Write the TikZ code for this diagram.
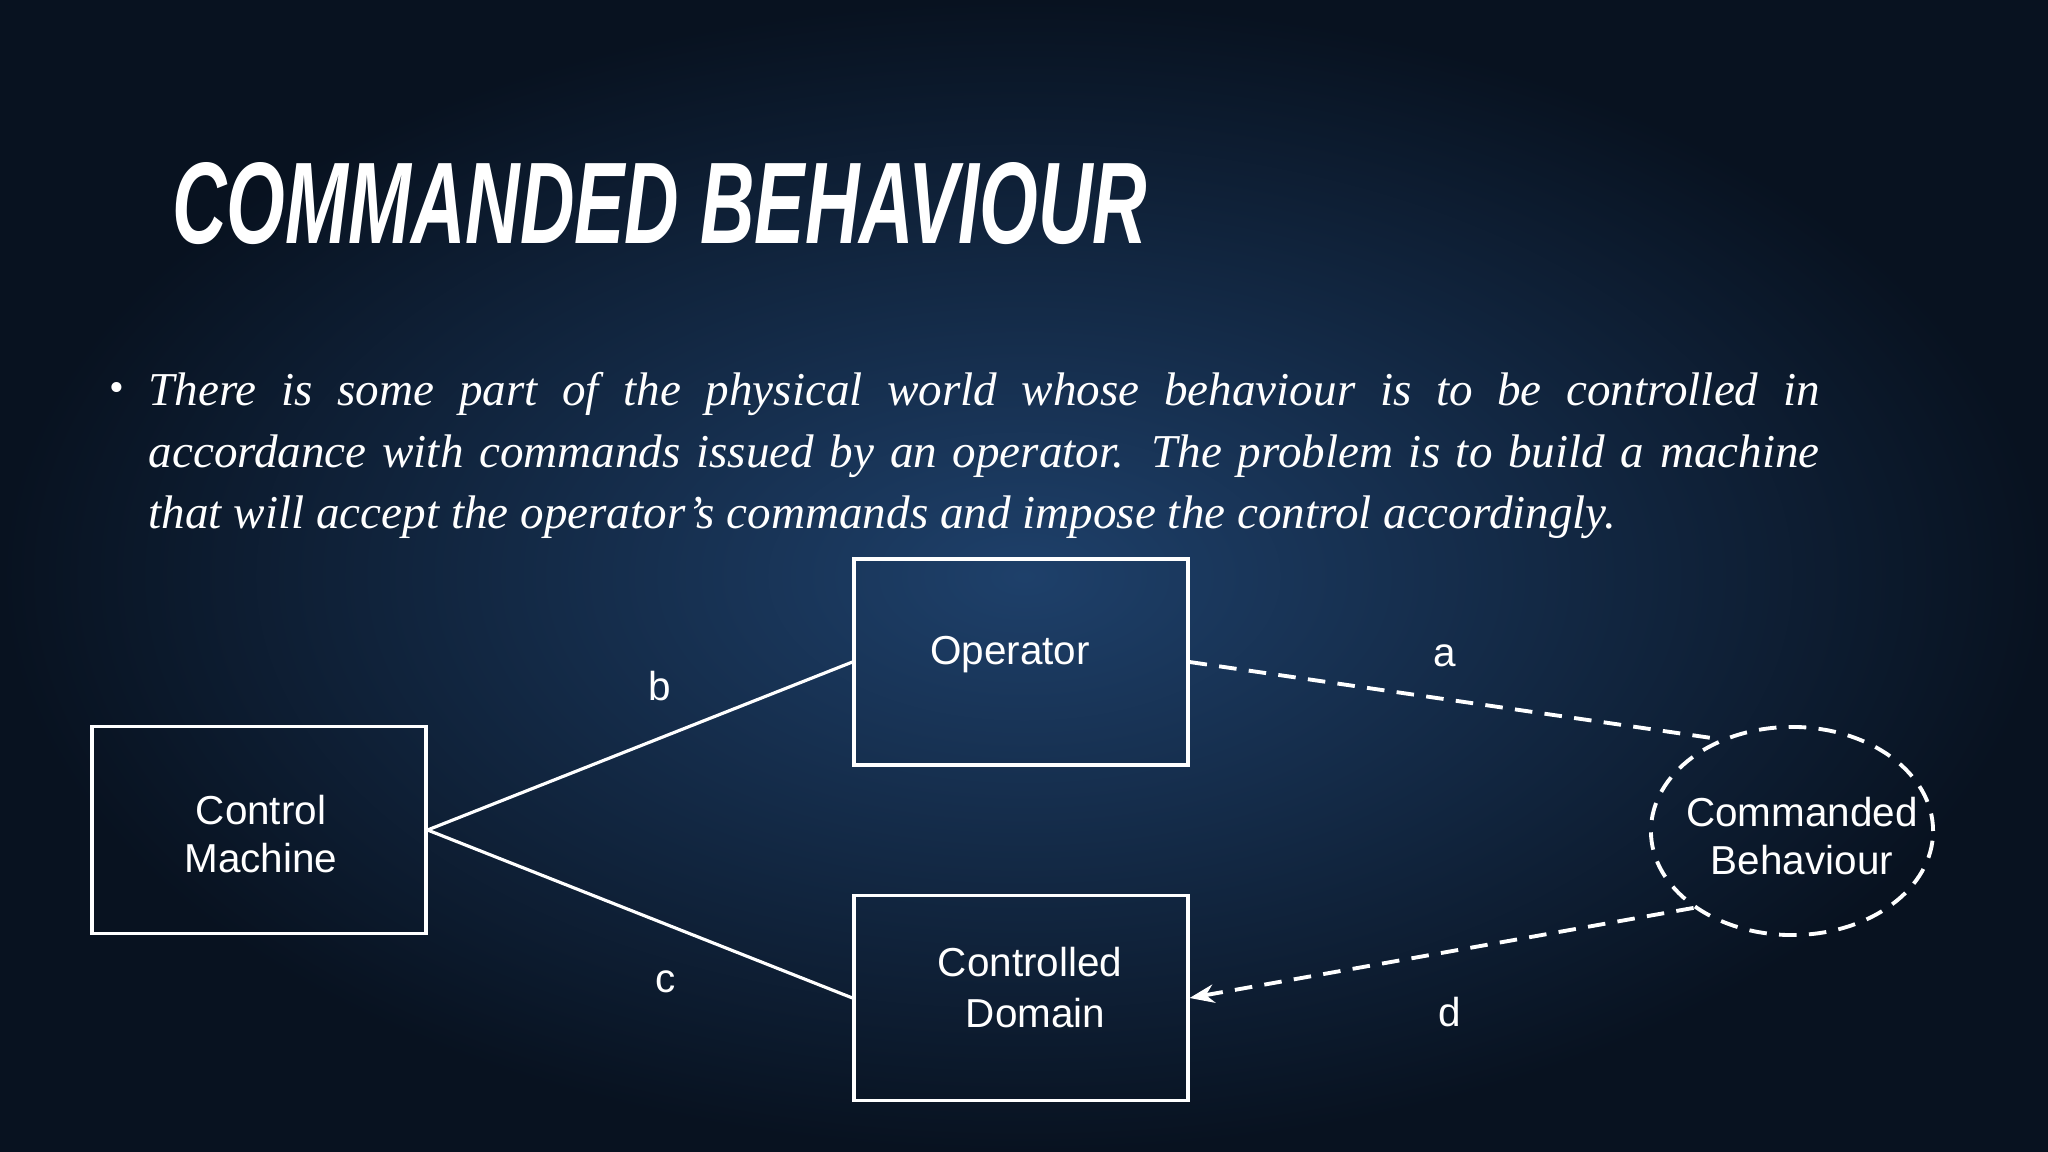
\documentclass[tikz,border=0pt]{standalone}
\usepackage{fontspec}
\usepackage{graphicx}
\setmainfont{Liberation Serif}
\setsansfont{Liberation Sans}
\usetikzlibrary{shapes.geometric,arrows.meta}
\definecolor{bgin}{RGB}{30,64,106}
\definecolor{bgout}{RGB}{8,18,32}
\tikzset{
  boxn/.style={draw=white,line width=1.1pt,minimum width=3.33cm},
  txtn/.style={text=white,align=center,font=\sffamily\fontsize{11.5}{13.5}\selectfont},
  conn/.style={white,line width=0.9pt},
  dconn/.style={draw=white,line width=1.1pt,dash pattern=on 5pt off 3.5pt}
}
\begin{document}
\begin{tikzpicture}[x=0.01cm,y=-0.01cm]
\shade[inner color=bgin,outer color=bgout] (0,0) rectangle (2048,1152);
\useasboundingbox (0,0) rectangle (2048,1152);
\node[anchor=west,text=white,font=\sffamily\bfseries\itshape\fontsize{33}{36}\selectfont] (title) at (160,204) {\scalebox{0.65}[1]{COMMANDED BEHAVIOUR}};
\node[anchor=north west,text=white,text width=16.7cm,align=justify,font=\itshape\fontsize{13.4}{17.4}\selectfont,inner sep=0pt] (txt) at (148,372)
 {There is some part of the physical world whose behaviour is to be controlled in\linebreak accordance with commands issued by an operator. The problem is to build a machine\linebreak that will accept the operator's commands and impose the control accordingly.};
\node[text=white,font=\fontsize{12}{14}\selectfont] (bul) at (117,392) {\textbullet};
\node[boxn,minimum height=2.06cm] (op) at (1021,662) {};
\node[boxn,minimum height=2.07cm] (cm) at (259,830) {};
\node[boxn,minimum height=2.05cm] (cd) at (1021,998) {};
\node[ellipse,dconn,minimum width=2.82cm,minimum height=2.08cm] (cb) at (1792,831) {};
\node[txtn] (opt) at (1010,655) {Operator};
\node[txtn] (cmt) at (261,834) {Control\\Machine};
\node[txtn,font=\sffamily\fontsize{11.5}{14.5}\selectfont] (cdt) at (1030,988) {Controlled\\\ Domain};
\node[txtn] (cbt) at (1802,836) {Commanded\\Behaviour};
\draw[conn] (cm.east) -- (op.west);
\draw[conn] (cm.east) -- (cd.west);
\draw[dconn] (op.east) -- (cb.128);
\draw[dconn,-{Stealth[length=7pt]}] (cb.218) -- (cd.east);
\node[txtn] (lb) at (660,686) {b};
\node[txtn] (la) at (1445,656) {a};
\node[txtn] (lc) at (666,982) {c};
\node[txtn] (ld) at (1450,1012) {d};
\end{tikzpicture}
\end{document}
